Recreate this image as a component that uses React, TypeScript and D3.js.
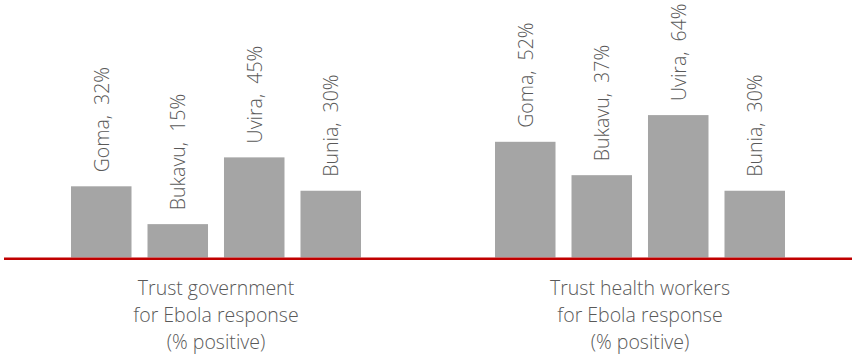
import React from "react";
import * as d3 from "d3";

const groups = ["Trust government|for Ebola response|(% positive)", "Trust health workers|for Ebola response|(% positive)"];
const cities = ["Goma", "Bukavu", "Uvira", "Bunia"];
const trustGovernment = [32, 15, 45, 30];
const trustHealthWorkers = [52, 37, 64, 30];
const seriesValues = [trustGovernment, trustHealthWorkers];

const W = 852;
const H = 358;
const FONT = "'Open Sans', 'Liberation Sans', sans-serif";

export default function App() {
  const x0 = d3.scaleBand<string>().domain(groups).range([4, W]).padding(0);
  const x1 = d3
    .scaleBand<string>()
    .domain(cities)
    .range([0, x0.bandwidth()])
    .paddingInner(0.209)
    .paddingOuter(0.876);
  const y = d3.scaleLinear().domain([0, 100]).range([257.5, 35]);

  return (
    <svg
      width={W}
      height={H}
      style={{ position: "absolute", left: 0, top: 0, background: "#fff" }}
      fontFamily={FONT}
    >
      {groups.map((g, gi) => {
        const gx = x0(g) as number;
        return (
          <g key={g} transform={`translate(${gx},0)`}>
            {cities.map((c, ci) => {
              const v = seriesValues[gi][ci];
              const bx = x1(c) as number;
              const bw = x1.bandwidth();
              const top = y(v);
              const cx = bx + bw / 2;
              return (
                <g key={c}>
                  <rect x={bx} y={top} width={bw} height={y(0) - top} fill="#a5a5a5" />
                  <text
                    transform={`translate(${cx + 7.5},${top - 14}) rotate(-90)`}
                    fontSize={19.5}
                    fontWeight={300}
                    fill="#595959"
                    textAnchor="start"
                    style={{ whiteSpace: "pre" }}
                  >
                    {`${c},  ${v}%`}
                  </text>
                </g>
              );
            })}
            <text
              x={x0.bandwidth() / 2}
              y={295}
              fontSize={19.5}
              fontWeight={300}
              fill="#595959"
              textAnchor="middle"
            >
              {g.split("|").map((line, li) => (
                <tspan key={li} x={x0.bandwidth() / 2} dy={li === 0 ? 0 : 27}>
                  {line}
                </tspan>
              ))}
            </text>
          </g>
        );
      })}
      <line x1={4} x2={W} y1={258.7} y2={258.7} stroke="#c00000" strokeWidth={2.5} />
    </svg>
  );
}
